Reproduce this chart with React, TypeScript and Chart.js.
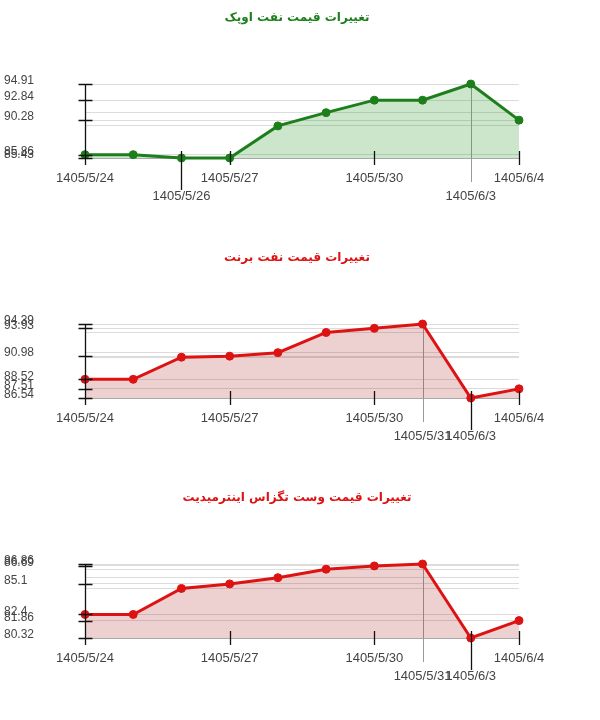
import { useEffect, useRef } from 'react';
import { Chart, registerables } from 'chart.js';

Chart.register(...registerables);

// shared day labels (one point per trading day)
const dates = ['1405/5/24', '1405/5/25', '1405/5/26', '1405/5/27', '1405/5/28', '1405/5/29', '1405/5/30', '1405/5/31', '1405/6/3', '1405/6/4'];

// OPEC basket
const opecValues = [85.86, 85.86, 85.43, 85.43, 89.54, 91.24, 92.84, 92.84, 94.91, 90.28];
const opecYTicks = [94.91, 92.84, 90.28, 85.86, 85.43];
const opecXTicks = ['1405/5/24', '1405/5/26', '1405/5/27', '1405/5/30', '1405/6/3', '1405/6/4'];
const opecLowered = ['1405/5/26', '1405/6/3'];
const opecGuide = '1405/6/3';

// Brent
const brentValues = [88.52, 88.52, 90.87, 90.98, 91.35, 93.49, 93.93, 94.39, 86.54, 87.51];
const brentYTicks = [94.39, 93.93, 90.98, 88.52, 87.51, 86.54];
const brentXTicks = ['1405/5/24', '1405/5/27', '1405/5/30', '1405/5/31', '1405/6/3', '1405/6/4'];
const brentLowered = ['1405/5/31', '1405/6/3'];
const brentGuide = '1405/5/31';

// WTI
const wtiValues = [82.4, 82.4, 84.7, 85.1, 85.65, 86.4, 86.69, 86.86, 80.32, 81.86];
const wtiYTicks = [86.86, 86.69, 85.1, 82.4, 81.86, 80.32];
const wtiXTicks = ['1405/5/24', '1405/5/27', '1405/5/30', '1405/5/31', '1405/6/3', '1405/6/4'];
const wtiLowered = ['1405/5/31', '1405/6/3'];
const wtiGuide = '1405/5/31';

const axisMarks = {
  id: 'axisMarks',
  beforeDatasetsDraw(chart: any, _args: any, opts: any) {
    const { ctx, chartArea, scales } = chart;
    const x = Math.round(scales.x.getPixelForValue(dates.indexOf(opts.guide))) + 0.5;
    ctx.save();
    ctx.strokeStyle = '#9a9a9a';
    ctx.lineWidth = 1;
    ctx.beginPath();
    ctx.moveTo(x, chartArea.top);
    ctx.lineTo(x, chartArea.bottom + 24);
    ctx.stroke();
    ctx.restore();
  },
  afterDraw(chart: any, _args: any, opts: any) {
    const { ctx, chartArea, scales } = chart;
    const left = Math.round(chartArea.left) + 0.5;
    const bottom = chartArea.bottom;
    ctx.save();
    ctx.strokeStyle = '#111';
    ctx.lineWidth = 1.3;
    ctx.beginPath();
    ctx.moveTo(left, chartArea.top);
    ctx.lineTo(left, bottom + 4);
    for (const v of opts.yTicks) {
      const y = Math.round(scales.y.getPixelForValue(v)) + 0.5;
      ctx.moveTo(left - 7, y);
      ctx.lineTo(left + 7, y);
    }
    for (const d of opts.xTicks) {
      if (d === opts.guide) continue;
      const x = Math.round(scales.x.getPixelForValue(dates.indexOf(d))) + 0.5;
      ctx.moveTo(x, bottom - 7);
      ctx.lineTo(x, bottom + (opts.lowered.includes(d) ? 32 : 7));
    }
    ctx.stroke();
    ctx.restore();
  }
};

type PanelProps = {
  title: string;
  color: string;
  fill: string;
  values: number[];
  yTicks: number[];
  xTicks: string[];
  lowered: string[];
  guide: string;
};

function PricePanel({ title, color, fill, values, yTicks, xTicks, lowered, guide }: PanelProps) {
  const canvasRef = useRef<HTMLCanvasElement | null>(null);

  useEffect(() => {
    if (!canvasRef.current) return;
    const min = Math.min(...values);
    const max = Math.max(...values);
    const gridValues = Array.from(new Set(values)).sort((a, b) => a - b);

    const chart = new Chart(canvasRef.current, {
      type: 'line',
      data: {
        labels: dates,
        datasets: [
          {
            data: values,
            borderColor: color,
            backgroundColor: fill,
            borderWidth: 3,
            pointRadius: 4,
            pointBackgroundColor: color,
            pointBorderColor: color,
            pointBorderWidth: 1,
            fill: 'start',
            tension: 0,
            clip: false
          }
        ]
      },
      options: {
        animation: false,
        responsive: true,
        maintainAspectRatio: false,
        layout: { padding: { left: 4, right: 81, top: 84, bottom: 0 } },
        plugins: {
          legend: { display: false },
          tooltip: { enabled: false },
          axisMarks: { yTicks, xTicks, lowered, guide }
        } as any,
        scales: {
          x: {
            type: 'category',
            offset: false,
            grid: { display: false, drawTicks: false },
            border: { display: false },
            afterFit: (s: any) => { s.height = 82; },
            ticks: {
              autoSkip: false,
              maxRotation: 0,
              minRotation: 0,
              padding: 11,
              color: '#444',
              font: { family: "'Liberation Sans', Arial, sans-serif", size: 13, lineHeight: 1.4 },
              callback: (_v: any, i: number) => {
                const d = dates[i];
                if (!xTicks.includes(d)) return '';
                return lowered.includes(d) ? ['', d] : d;
              }
            }
          },
          y: {
            min,
            max,
            afterFit: (s: any) => { s.width = 81; },
            afterBuildTicks: (s: any) => { s.ticks = gridValues.map(v => ({ value: v })); },
            grid: {
              drawTicks: false,
              color: (c: any) => (c.tick && c.tick.value === min ? '#a8a8a8' : '#dcdcdc'),
              lineWidth: 1
            },
            border: { display: false },
            ticks: {
              autoSkip: false,
              crossAlign: 'far',
              labelOffset: -3,
              padding: 0,
              color: '#444',
              font: { family: "'Liberation Sans', Arial, sans-serif", size: 12 },
              callback: (v: any) => (yTicks.includes(Number(v)) ? String(v) : '')
            }
          }
        }
      },
      plugins: [axisMarks]
    } as any);

    return () => chart.destroy();
  }, [title, color, fill, values, yTicks, xTicks, lowered, guide]);

  return (
    <div style={{ position: 'relative', width: 600, height: 240 }}>
      <div
        dir="rtl"
        style={{
          position: 'absolute',
          left: 0,
          top: 9,
          width: 594,
          textAlign: 'center',
          fontFamily: "'DejaVu Sans', sans-serif",
          fontWeight: 'bold',
          fontSize: 12,
          lineHeight: '16px',
          color
        }}
      >
        {title}
      </div>
      <canvas ref={canvasRef} />
    </div>
  );
}

export default function App() {
  return (
    <div style={{ position: 'absolute', left: 0, top: 0, width: 600, background: '#fff' }}>
      <PricePanel
        title="تغییرات قیمت نفت اوپک"
        color="#1c7f1c"
        fill="rgba(40,150,40,0.24)"
        values={opecValues}
        yTicks={opecYTicks}
        xTicks={opecXTicks}
        lowered={opecLowered}
        guide={opecGuide}
      />
      <PricePanel
        title="تغییرات قیمت نفت برنت"
        color="#dd1212"
        fill="rgba(175,40,40,0.22)"
        values={brentValues}
        yTicks={brentYTicks}
        xTicks={brentXTicks}
        lowered={brentLowered}
        guide={brentGuide}
      />
      <PricePanel
        title="تغییرات قیمت وست تگزاس اینترمیدیت"
        color="#dd1212"
        fill="rgba(175,40,40,0.22)"
        values={wtiValues}
        yTicks={wtiYTicks}
        xTicks={wtiXTicks}
        lowered={wtiLowered}
        guide={wtiGuide}
      />
    </div>
  );
}
